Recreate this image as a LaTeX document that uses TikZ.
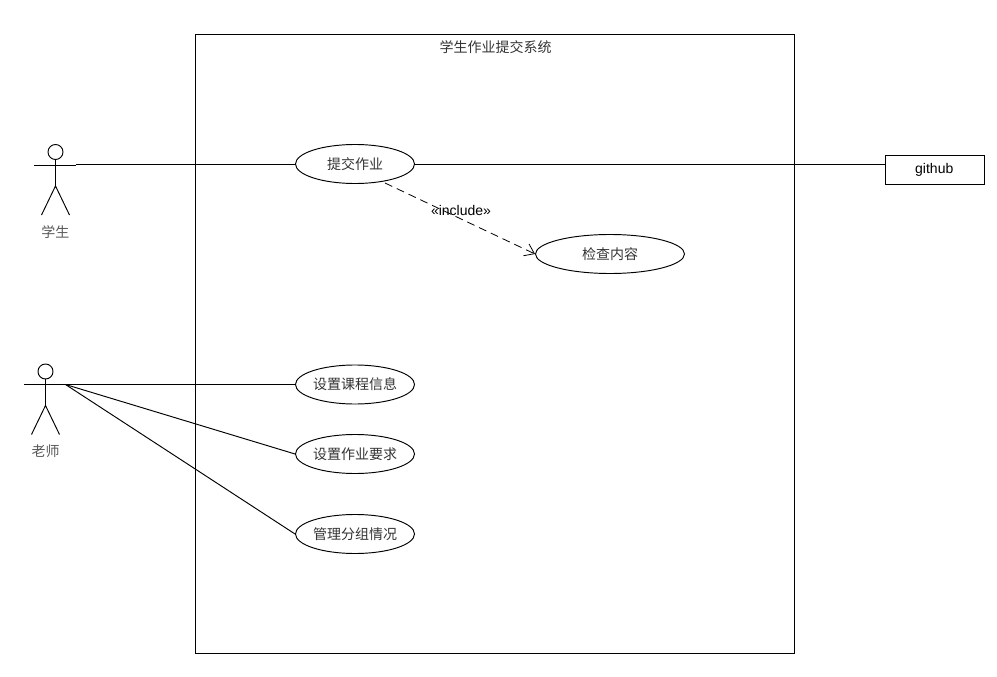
\documentclass[tikz,border=0pt]{standalone}
\usepackage{fontspec}
\setmainfont{Liberation Sans}
\newfontfamily\cjk{Noto Sans CJK SC}[Scale=1]
\usetikzlibrary{arrows.meta,shapes.geometric}
\definecolor{lbl}{HTML}{333333}
\tikzset{
  x=1pt,y=-1pt,
  every path/.style={line width=0.95pt},
  usecase/.style={draw,ellipse,inner sep=0pt,minimum height=39pt,font=\cjk\fontsize{14}{16}\selectfont,text=lbl},
  assoc/.style={draw,line width=0.95pt},
  incl/.style={draw,line width=0.8pt,dash pattern=on 8pt off 5pt,-{Straight Barb[length=9pt,width=13pt,line width=0.8pt]}},
  actorlabel/.style={font=\cjk\fontsize{14}{16}\selectfont,text=black!65,inner sep=0pt},
  actorhead/.style={draw,circle,minimum size=15pt,inner sep=0pt},
}
\newcommand{\actor}[4]{%
  \node[actorhead] (#1head) at (#2,#3-13) {};
  \coordinate (#1hip) at (#2,#3+21);
  \coordinate (#1l) at (#2-21.5,#3);
  \coordinate (#1r) at (#2+20,#3);
  \coordinate (#1fl) at (#2-14,#3+50);
  \coordinate (#1fr) at (#2+14,#3+50);
  \draw (#1head) -- (#1hip);
  \draw (#1l) -- (#1r);
  \draw (#1fl) -- (#1hip) -- (#1fr);
  \node[actorlabel] (#1name) at (#2,#3+67) {#4};
}
\begin{document}
\begin{tikzpicture}
\useasboundingbox (0,0) rectangle (997,677);
\node[draw,minimum width=599pt,minimum height=619pt,inner sep=0pt] (sys) at (494.5,344) {};
\node[font=\cjk\fontsize{14}{16}\selectfont,text=lbl,inner sep=0pt] (title) at (495.5,47) {学生作业提交系统};
\actor{stu}{55.5}{165}{学生}
\actor{tea}{45.5}{384.5}{老师}
\node[usecase,minimum width=119pt] (submit) at (355,164) {提交作业};
\node[usecase,minimum width=149pt] (check) at (610,254) {检查内容};
\node[usecase,minimum width=119pt] (course) at (355,384.5) {设置课程信息};
\node[usecase,minimum width=119pt] (req) at (355,454) {设置作业要求};
\node[usecase,minimum width=119pt] (group) at (355,534) {管理分组情况};
\node[draw,minimum width=99.5pt,minimum height=29pt,inner sep=0pt,font=\fontsize{14}{16}\selectfont] (gh) at (935,169.5) {\kern-1.5pt github};
\coordinate (stuhand) at (76,164);
\draw[assoc] (stuhand) -- (submit);
\draw[assoc] (submit) -- (submit-|gh.west);
\draw[assoc] (tear) -- (course.west);
\draw[assoc] (tear) -- (req.west);
\draw[assoc] (tear) -- (group.west);
\coordinate (inclstart) at (385,183);
\draw[incl] (inclstart) -- (check.west);
\node[font=\fontsize{14}{16}\selectfont,inner sep=0pt] (incl) at (461,210.5) {«include»};
\end{tikzpicture}
\end{document}
